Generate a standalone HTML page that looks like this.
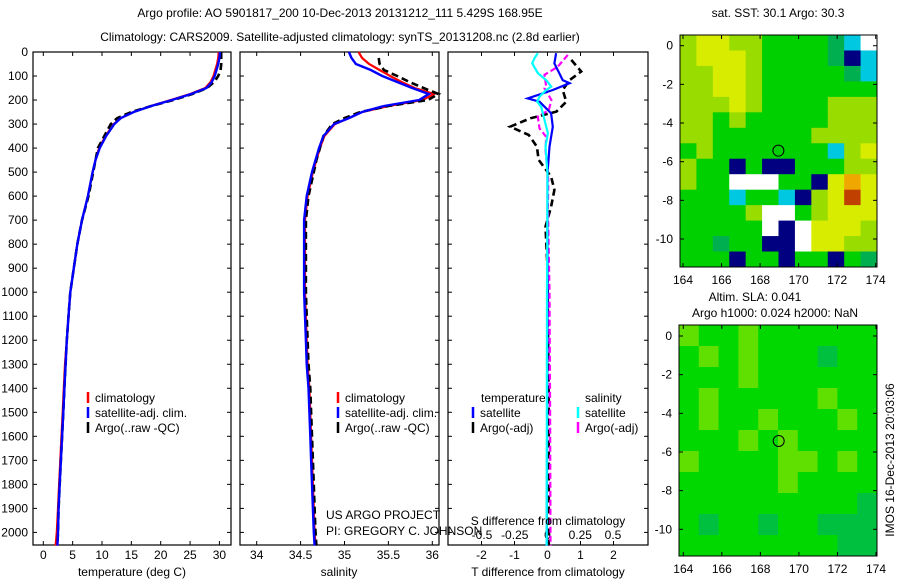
<!DOCTYPE html>
<html><head><meta charset="utf-8"><style>
html,body{margin:0;padding:0;background:#fff}
svg{display:block;font-family:"Liberation Sans",sans-serif}
text{font-size:12px;fill:#000}
</style></head><body>
<svg id="fig" width="900" height="580" viewBox="0 0 900 580">
<text x="340" y="17" text-anchor="middle">Argo profile: AO 5901817_200 10-Dec-2013 20131212_111 5.429S 168.95E</text>
<text x="340" y="41" text-anchor="middle">Climatology: CARS2009. Satellite-adjusted climatology: synTS_20131208.nc (2.8d earlier)</text>
<g id="g"></g>
</svg>
<script>
// ---- profile data ----
const depths=[0,25,50,75,100,125,150,175,200,225,250,275,300,350,400,450,500,600,700,800,900,1000,1100,1200,1300,1400,1500,1600,1700,1800,1900,2000,2055];
const tempClim=[29.9,29.8,29.6,29.3,29.0,28.5,27.6,25.0,21.7,18.3,15.4,13.2,12.0,10.6,9.5,8.9,8.4,7.6,6.6,5.8,5.2,4.6,4.3,4.0,3.7,3.5,3.3,3.1,2.9,2.7,2.5,2.3,2.1];
const tempSat=[30.1,30.0,29.8,29.5,29.2,28.7,27.8,25.2,21.9,18.4,15.4,13.2,12.1,10.7,9.6,8.9,8.4,7.6,6.6,5.8,5.2,4.6,4.3,4.0,3.8,3.6,3.4,3.2,3.0,2.8,2.6,2.5,2.4];
const tempArgo=[30.3,30.3,30.3,30.2,29.8,29.1,27.9,25.4,22.2,18.4,15.0,12.6,11.5,10.4,9.3,8.9,8.5,7.7,6.6,5.8,5.2,4.6,4.3,4.0,3.8,3.6,3.4,3.2,3.0,2.8,2.6,2.5,2.4];
const salClim=[35.16,35.2,35.28,35.4,35.52,35.65,35.8,36.02,35.89,35.5,35.2,35.05,34.89,34.77,34.72,34.68,34.64,34.58,34.55,34.55,34.55,34.55,34.56,34.57,34.58,34.6,34.61,34.62,34.63,34.64,34.65,34.66,34.67];
const salSat=[35.05,35.08,35.13,35.3,35.43,35.6,35.77,35.96,35.85,35.45,35.2,35.05,34.88,34.76,34.71,34.67,34.63,34.57,34.54,34.54,34.54,34.54,34.55,34.56,34.57,34.59,34.6,34.61,34.62,34.63,34.64,34.65,34.66];
const salArgo=[null,35.39,35.4,35.45,35.6,35.74,35.9,36.07,35.95,35.5,35.18,35.0,34.86,34.76,34.72,34.68,34.65,34.59,34.56,34.56,34.56,34.56,34.57,34.58,34.59,34.61,34.62,34.63,34.64,34.65,34.66,34.67,34.68];
// difference panel
const dTsatDepth=[5,47,117,130,158,193,207,255,311,394,505,1000,2055];
const dTsat=[0.26,0.21,0.46,0.67,0.16,-0.6,-0.24,0.11,0.16,0.06,0.0,0.0,-0.02];
const dTargoDepth=[33,81,117,158,207,248,276,311,345,394,449,519,574,644,727,900,1500,2055];
const dTargo=[0.72,1.02,0.67,0.46,0.57,0.27,-0.52,-1.13,-0.57,-0.32,-0.27,0.11,0.21,0.11,-0.06,0.0,0.04,0.04];
const dSsatDepth=[5,26,47,88,117,144,158,186,207,228,283,338,394,505,1000,2055];
const dSsat=[-0.074,-0.099,-0.117,-0.074,-0.01,0.028,-0.01,-0.061,-0.079,-0.048,-0.023,0.003,-0.015,0.0,-0.004,-0.006];
const dSargoDepth=[12,61,95,144,151,200,242,269,318,353,408,533,644,1000,1500,2055];
const dSargo=[0.155,0.079,-0.023,-0.01,-0.023,0.03,0.01,-0.074,-0.061,-0.01,-0.015,0.006,0.003,0.015,0.02,0.023];
// ticks
const depthTicks=[0,100,200,300,400,500,600,700,800,900,1000,1100,1200,1300,1400,1500,1600,1700,1800,1900,2000];
const tempTicks=[0,5,10,15,20,25,30];
const salTicks=[34,34.5,35,35.5,36];
const salTickLabels=["34","34.5","35","35.5","36"];
const tdTicks=[-2,-1,0,1,2];
const sdTicks=[-0.5,-0.25,0,0.25,0.5];
const sdTickLabels=["-0.5","-0.25","0","0.25","0.5"];
// maps
const lonTicks=[164,166,168,170,172,174];
const latTicks=[0,-2,-4,-6,-8,-10];
const sstGrid=[
[6,7,7,6,6,5,5,5,5,4,3,0],
[6,7,7,7,6,5,5,5,5,4,1,3],
[6,6,7,7,6,5,5,5,5,5,4,3],
[6,6,7,7,6,5,5,5,5,5,5,5],
[6,6,6,7,6,5,5,5,5,6,6,6],
[6,6,5,6,5,5,5,5,5,6,6,6],
[6,6,5,5,5,5,5,5,6,6,6,6],
[5,6,5,5,5,5,5,5,5,3,6,7],
[6,5,5,1,5,1,1,5,5,5,6,6],
[6,5,5,0,0,0,5,5,1,7,8,7],
[5,5,5,3,5,5,3,1,6,7,9,7],
[5,5,5,5,6,0,0,5,6,7,7,7],
[5,5,5,5,5,0,1,0,7,7,7,6],
[5,5,4,5,5,1,1,0,7,7,6,6],
[5,5,5,1,5,5,1,5,5,1,5,4]];
const slaGrid=[
[2,1,1,2,1,1,1,1,1,1],
[1,2,1,2,1,1,1,0,1,1],
[1,1,1,2,1,1,1,1,1,1],
[1,2,1,1,1,1,1,2,1,1],
[1,2,1,1,2,1,1,1,2,1],
[1,1,1,2,1,2,1,1,1,1],
[2,1,1,1,1,2,2,1,2,1],
[1,1,1,1,1,2,1,1,1,1],
[1,1,1,1,1,1,1,1,1,0],
[1,0,1,1,0,1,1,0,0,0],
[1,1,1,1,1,1,1,1,0,0]];
const argoLon=[168.95];
const argoLat=[-5.43];

const NS="http://www.w3.org/2000/svg";
const G=document.getElementById('g');
function mk(tag,attrs,parent){const e=document.createElementNS(NS,tag);for(const k in attrs)e.setAttribute(k,attrs[k]);(parent||G).appendChild(e);return e;}
function txt(x,y,s,anchor,parent){const e=mk('text',{x:x,y:y,'text-anchor':anchor||'start'},parent);e.textContent=s;return e;}

const yTop=52,yBot=545;
const yD=d=>yTop+d*0.2402;
const xT=t=>43.3+t*5.87;
const xS=s=>256.7+(s-34)*87.8;
const xTd=v=>547.5+v*33;
const xSd=v=>547.5+v*131;

function frame(x0,x1,name){
  const r=mk('rect',{x:x0,y:yTop,width:x1-x0,height:yBot-yTop,fill:'none',stroke:'#000','stroke-width':1.2});
  
  
  depthTicks.forEach(d=>{mk('line',{x1:x0,x2:x0+4,y1:yD(d),y2:yD(d),stroke:'#000'});mk('line',{x1:x1-4,x2:x1,y1:yD(d),y2:yD(d),stroke:'#000'});});
}
function xticks(vals,labels,fx,ylab){
  vals.forEach((v,i)=>{const x=fx(v);mk('line',{x1:x,x2:x,y1:yTop,y2:yTop+4,stroke:'#000'});mk('line',{x1:x,x2:x,y1:yBot-4,y2:yBot,stroke:'#000'});
    if(ylab){const t=txt(x,ylab,labels[i],'middle');}});
}
function line(xs,ds,fx,color,dash,w,name){
  let pts=[];
  xs.forEach((v,i)=>{if(v!==null)pts.push(fx(v).toFixed(1)+','+yD(ds[i]).toFixed(1));});
  const a={points:pts.join(' '),fill:'none',stroke:color,'stroke-width':w||2.2};
  if(dash)a['stroke-dasharray']=dash;
  const p=mk('polyline',a);
  
  
}
// panel 1
frame(33,231,'temperature-panel');
depthTicks.forEach(d=>{const t=txt(28,yD(d)+4,String(d),'end');});
xticks(tempTicks,tempTicks.map(String),xT,559);
line(tempClim,depths,xT,'#f00',null,2.2,'temp-climatology-line');
line(tempArgo,depths,xT,'#000','7 4',2.6,'temp-argo-line');
line(tempSat,depths,xT,'#00f',null,2.4,'temp-satellite-line');
let at=txt(132,576,'temperature (deg C)','middle');
// panel 2
frame(240,439,'salinity-panel');
xticks(salTicks,salTickLabels,xS,559);
line(salClim,depths,xS,'#f00',null,2.2,'sal-climatology-line');
line(salArgo,depths,xS,'#000','7 4',2.6,'sal-argo-line');
line(salSat,depths,xS,'#00f',null,2.4,'sal-satellite-line');
at=txt(339,576,'salinity','middle');
// panel 3
frame(448,648,'difference-panel');
xticks(tdTicks,tdTicks.map(String),xTd,559);
sdTicks.forEach((v,i)=>{const t=txt(xSd(v),539,sdTickLabels[i],'middle');});
line(dTargo,dTargoDepth,xTd,'#000','7 4',2.6,'tdiff-argo-line');
line(dSargo,dSargoDepth,xSd,'#f0f','6 3',2.2,'sdiff-argo-line');
line(dTsat,dTsatDepth,xTd,'#00f',null,2.2,'tdiff-satellite-line');
line(dSsat,dSsatDepth,xSd,'#0ff',null,2.2,'sdiff-satellite-line');
at=txt(548,576,'T difference from climatology','middle');
at=txt(548,525,'S difference from climatology','middle');

function legend(x,y,color,label,name){
  mk('line',{x1:x,x2:x,y1:y-10,y2:y+1,stroke:color,'stroke-width':2.5});
  const t=txt(x+7,y,label);
}
legend(88,402,'#f00','climatology','legend-climatology');
legend(88,417,'#00f','satellite-adj. clim.','legend-satellite-adj');
legend(88,432,'#000','Argo(..raw -QC)','legend-argo');
legend(338,402,'#f00','climatology','legend2-climatology');
legend(338,417,'#00f','satellite-adj. clim.','legend2-satellite-adj');
legend(338,432,'#000','Argo(..raw -QC)','legend2-argo');
at=txt(481,402,'temperature');
at=txt(585,402,'salinity');
legend(473,417,'#00f','satellite','legend-t-satellite');
legend(473,432,'#000','Argo(-adj)','legend-t-argo');
legend(578,417,'#0ff','satellite','legend-s-satellite');
legend(578,432,'#f0f','Argo(-adj)','legend-s-argo');
at=txt(326,519,'US ARGO PROJECT');
at=txt(326,535,'PI: GREGORY C. JOHNSON');

// ---- maps ----
const sstColors=['#ffffff','#000080','#0040ff','#00c8e0','#00b050','#00d000','#98dc00','#d8ec00','#f0a800','#c04000'];
const slaColors=['#00c040','#00d800','#60e000'];
function drawMap(cfg,grid,colors,name){
  const lonX=l=>cfg.x164+(l-164)*cfg.kx;
  const latY=l=>cfg.y0+(-l)*cfg.ky;
  const nR=grid.length,nC=grid[0].length;
  const cw=(cfg.x1-cfg.x0)/nC,ch=(cfg.y1-cfg.yt)/nR;
  const gg=mk('g',{});
  
  
  grid.forEach((row,r)=>row.forEach((v,c)=>{
    mk('rect',{x:(cfg.x0+c*cw).toFixed(2),y:(cfg.yt+r*ch).toFixed(2),width:(cw+0.5).toFixed(2),height:(ch+0.5).toFixed(2),fill:colors[v]},gg);
  }));
  mk('rect',{x:cfg.x0,y:cfg.yt,width:cfg.x1-cfg.x0,height:cfg.y1-cfg.yt,fill:'none',stroke:'#000'});
  lonTicks.forEach(l=>{const x=lonX(l);mk('line',{x1:x,x2:x,y1:cfg.yt,y2:cfg.yt+4,stroke:'#000'});mk('line',{x1:x,x2:x,y1:cfg.y1-4,y2:cfg.y1,stroke:'#000'});
    const t=txt(x,cfg.y1+17,String(l),'middle');});
  latTicks.forEach(l=>{const y=latY(l);mk('line',{x1:cfg.x0,x2:cfg.x0+4,y1:y,y2:y,stroke:'#000'});mk('line',{x1:cfg.x1-4,x2:cfg.x1,y1:y,y2:y,stroke:'#000'});
    const t=txt(cfg.x0-7,y+4,String(l),'end');});
  argoLon.forEach((lo,i)=>{const c=mk('circle',{cx:lonX(lo),cy:latY(argoLat[i]),r:5.5,fill:'none',stroke:'#000','stroke-width':1});
    });
}
drawMap({x0:680,x1:877,yt:35,y1:267,x164:683,kx:19.27,y0:45.7,ky:19.33},sstGrid,sstColors,'sst-map');
drawMap({x0:679,x1:877,yt:325,y1:556,x164:683.3,kx:19.27,y0:336,ky:19.33},slaGrid,slaColors,'sla-map');
at=txt(778,17,'sat. SST: 30.1  Argo: 30.3','middle');
at=txt(755,301,'Altim. SLA: 0.041','middle');
at=txt(775,317,'Argo h1000: 0.024 h2000: NaN','middle');
at=txt(0,0,'IMOS 16-Dec-2013 20:03:06','middle');at.setAttribute('transform','translate(894,460) rotate(-90)');


</script>
</body></html>
